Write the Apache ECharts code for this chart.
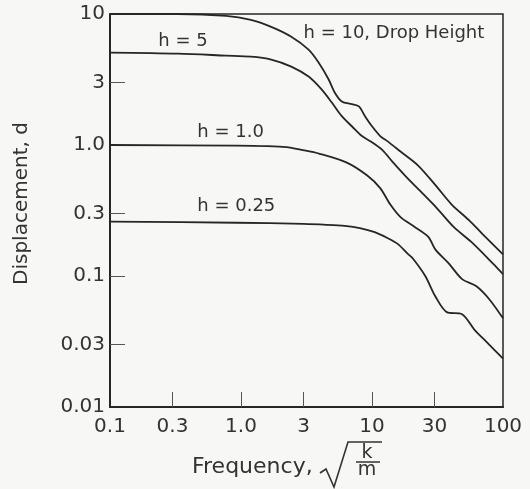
<!DOCTYPE html>
<html><head><meta charset="utf-8">
<script src="https://cdn.jsdelivr.net/npm/echarts@6/dist/echarts.min.js"></script>
<style>html,body{margin:0;padding:0;background:#f7f7f5}#c{width:530px;height:489px}</style>
</head><body><div id="c"></div>
<script>
// Tick values and labels
const xTicks = [0.1, 0.3, 1, 3, 10, 30, 100];
const xTickLabels = ['0.1', '0.3', '1.0', '3', '10', '30', '100'];
const yTicks = [0.01, 0.03, 0.1, 0.3, 1, 3, 10];
const yTickLabels = ['0.01', '0.03', '0.1', '0.3', '1.0', '3', '10'];

// Curves: frequency (x) and displacement (y)
const h10x = [0.1, 0.33, 0.77, 1.19, 1.70, 2.42, 3.28, 3.91, 4.67, 5.19, 5.88, 7.02, 7.94, 8.84, 10.0, 11.55, 13.1, 16.6, 22.5, 30.5, 40.6, 55.2, 69.8, 100];
const h10y = [10, 10, 9.66, 9.0, 7.97, 6.70, 5.34, 4.26, 3.16, 2.52, 2.15, 2.05, 1.97, 1.66, 1.39, 1.17, 1.07, 0.887, 0.697, 0.494, 0.351, 0.266, 0.209, 0.146];
const h5x = [0.1, 0.33, 0.77, 1.19, 1.70, 2.42, 3.28, 4.12, 4.92, 5.88, 7.02, 8.38, 10.0, 11.97, 14.3, 18.1, 23.3, 31.0, 42.2, 57.3, 83.5, 100];
const h5y = [5.07, 4.98, 4.81, 4.72, 4.49, 3.97, 3.33, 2.66, 2.12, 1.66, 1.39, 1.17, 1.05, 0.918, 0.747, 0.577, 0.446, 0.333, 0.236, 0.182, 0.125, 0.1035];
const h1x = [0.1, 0.92, 1.6, 2.22, 2.89, 3.98, 6.42, 9.15, 11.55, 13.8, 16.6, 21.3, 26.9, 30.5, 38.5, 48.7, 62.7, 79.1, 100];
const h1y = [1.0, 0.99, 0.98, 0.962, 0.918, 0.857, 0.734, 0.587, 0.469, 0.351, 0.280, 0.236, 0.199, 0.159, 0.125, 0.0947, 0.0834, 0.0659, 0.0475];
const h025x = [0.1, 0.92, 3.0, 4.51, 6.2, 8.08, 10.5, 13.1, 15.7, 18.7, 20.5, 25.5, 30.5, 37.2, 48.7, 60.4, 72.3, 86.6, 100];
const h025y = [0.26, 0.255, 0.25, 0.246, 0.241, 0.232, 0.216, 0.195, 0.176, 0.148, 0.136, 0.1, 0.0697, 0.053, 0.0511, 0.039, 0.0325, 0.0271, 0.0234];

// Curve annotations: text and data position of its left/middle anchor
const annTexts = ['h = 10, Drop Height', 'h = 5', 'h = 1.0', 'h = 0.25'];
const annX = [3.0, 0.234, 0.464, 0.464];
const annY = [7.18, 6.14, 1.24, 0.339];

const FONT = 'DejaVu Sans';
const INK = '#262626';

function fmt(ticks, labels) {
  return function (v) {
    for (let i = 0; i < ticks.length; i++) {
      if (Math.abs(Math.log10(v) - Math.log10(ticks[i])) < 1e-3) return labels[i];
    }
    return '';
  };
}
function pairs(xs, ys) { return xs.map((v, i) => [v, ys[i]]); }
function line(name, xs, ys) {
  return {
    name: name, type: 'line', data: pairs(xs, ys), smooth: 0.3, symbol: 'none',
    lineStyle: { color: INK, width: 1.8 }, silent: true
  };
}

const chart = echarts.init(document.getElementById('c'), null, { renderer: 'canvas' });
chart.setOption({
  backgroundColor: '#f7f7f5',
  animation: false,
  grid: { left: 110, right: 27, top: 14, bottom: 82, show: true, borderColor: INK, borderWidth: 1.5, backgroundColor: 'transparent' },
  xAxis: {
    type: 'log', logBase: 10, min: 0.1, max: 100,
    axisLine: { show: true, lineStyle: { color: INK, width: 2 } },
    axisTick: { show: true, inside: true, length: 15, lineStyle: { color: '#555', width: 1 }, customValues: [0.3, 1, 3, 10, 30] },
    axisLabel: { customValues: xTicks, formatter: fmt(xTicks, xTickLabels), color: '#333', fontFamily: FONT, fontSize: 20, margin: 10 },
    splitLine: { show: false }, minorTick: { show: false }
  },
  yAxis: {
    type: 'log', logBase: 10, min: 0.01, max: 10,
    name: 'Displacement, d', nameLocation: 'middle', nameGap: 78,
    nameTextStyle: { color: '#333', fontFamily: FONT, fontSize: 20, padding: [0, 0, 0, 14] },
    axisLine: { show: true, lineStyle: { color: INK, width: 2 } },
    axisTick: { show: true, inside: true, length: 15, lineStyle: { color: '#555', width: 1 }, customValues: [0.03, 0.1, 0.3, 1, 3] },
    axisLabel: { customValues: yTicks, formatter: fmt(yTicks, yTickLabels), color: '#333', fontFamily: FONT, fontSize: 20, margin: 5 },
    splitLine: { show: false }, minorTick: { show: false }
  },
  series: [
    line('h = 10', h10x, h10y),
    line('h = 5', h5x, h5y),
    line('h = 1.0', h1x, h1y),
    line('h = 0.25', h025x, h025y)
  ]
});

// Annotations placed through the chart's own coordinate conversion
const g = [];
for (let i = 0; i < annTexts.length; i++) {
  const p = chart.convertToPixel({ gridIndex: 0 }, [annX[i], annY[i]]);
  g.push({ type: 'text', x: p[0], y: p[1], style: { text: annTexts[i], fill: '#333', font: '18px "' + FONT + '"', textAlign: 'left', textVerticalAlign: 'middle' } });
}
// x axis title: "Frequency, sqrt(k/m)"
g.push({ type: 'text', x: 192, y: 467, style: { text: 'Frequency,', fill: '#333', font: '22px "' + FONT + '"', textAlign: 'left', textVerticalAlign: 'middle' } });
g.push({ type: 'polyline', shape: { points: [[320, 473], [326, 469], [334, 487], [348, 442], [382, 442]] }, style: { stroke: '#333', lineWidth: 1.6, fill: null } });
g.push({ type: 'line', shape: { x1: 356, y1: 462, x2: 380, y2: 462 }, style: { stroke: '#333', lineWidth: 1.5 } });
g.push({ type: 'text', x: 367, y: 453, style: { text: 'k', fill: '#333', font: '19px "' + FONT + '"', textAlign: 'center', textVerticalAlign: 'middle' } });
g.push({ type: 'text', x: 367, y: 470, style: { text: 'm', fill: '#333', font: '19px "' + FONT + '"', textAlign: 'center', textVerticalAlign: 'middle' } });
chart.setOption({ graphic: g });
</script>
</body></html>
